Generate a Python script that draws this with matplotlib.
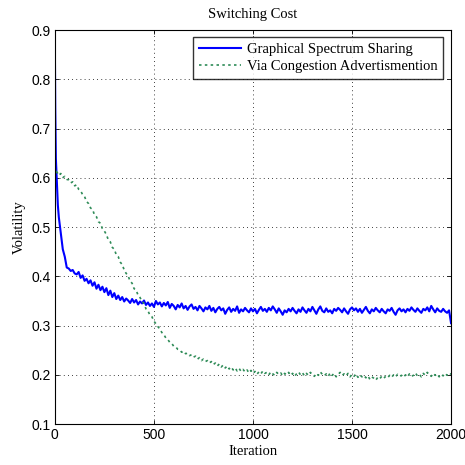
import numpy as np
import matplotlib.pyplot as plt

# ---- data ----
# early part (fast transient), then every 10 iterations from 70 to 2000
blue_head_iter = [0, 2, 5, 10, 15, 20, 30, 40, 50, 60]
blue_head_val = [0.865, 0.74, 0.64, 0.59, 0.545, 0.52, 0.488, 0.455, 0.44, 0.418]

green_head_iter = [0, 2, 5, 10, 20, 30, 40, 50, 60]
green_head_val = [0.83, 0.62, 0.608, 0.612, 0.605, 0.609, 0.601, 0.603, 0.597]

body_iter = list(range(70, 2001, 10))

blue_body_val = [
    0.416, 0.411, 0.413, 0.406, 0.404, 0.409, 0.397, 0.402, 0.391, 0.395,
    0.386, 0.392, 0.381, 0.388, 0.375, 0.383, 0.372, 0.379, 0.368, 0.376,
    0.362, 0.371, 0.358, 0.366, 0.354, 0.361, 0.352, 0.358, 0.349, 0.355,
    0.351, 0.346, 0.354, 0.347, 0.352, 0.343, 0.349, 0.345, 0.351, 0.342,
    0.347, 0.340, 0.345, 0.338, 0.350, 0.343, 0.347, 0.339, 0.346, 0.341,
    0.348, 0.336, 0.344, 0.340, 0.333, 0.342, 0.337, 0.345, 0.335, 0.340,
    0.332, 0.339, 0.343, 0.334, 0.338, 0.331, 0.340, 0.335, 0.329, 0.337,
    0.333, 0.340, 0.330, 0.336, 0.327, 0.334, 0.338, 0.331, 0.335, 0.324,
    0.332, 0.337, 0.328, 0.334, 0.330, 0.339, 0.326, 0.333, 0.329, 0.336,
    0.331, 0.327, 0.335, 0.329, 0.334, 0.325, 0.332, 0.338, 0.330, 0.334,
    0.328, 0.336, 0.331, 0.339, 0.333, 0.326, 0.335, 0.329, 0.322, 0.331,
    0.327, 0.334, 0.329, 0.336, 0.330, 0.325, 0.333, 0.328, 0.337, 0.331,
    0.326, 0.334, 0.329, 0.338, 0.331, 0.324, 0.333, 0.339, 0.330, 0.327,
    0.335, 0.328, 0.331, 0.325, 0.334, 0.330, 0.336, 0.332, 0.327, 0.335,
    0.329, 0.324, 0.333, 0.337, 0.331, 0.335, 0.328, 0.334, 0.326, 0.332,
    0.338, 0.330, 0.325, 0.333, 0.329, 0.336, 0.331, 0.327, 0.334, 0.329,
    0.325, 0.333, 0.330, 0.336, 0.328, 0.322, 0.331, 0.335, 0.329, 0.333,
    0.327, 0.334, 0.330, 0.337, 0.332, 0.328, 0.335, 0.330, 0.326, 0.334,
    0.331, 0.337, 0.329, 0.340, 0.333, 0.327, 0.335, 0.330, 0.328, 0.334,
    0.329, 0.326, 0.331, 0.305,
]

green_body_val = [
    0.596, 0.590, 0.592, 0.584, 0.586, 0.577, 0.574, 0.566, 0.562, 0.552,
    0.548, 0.539, 0.536, 0.525, 0.521, 0.511, 0.508, 0.497, 0.492, 0.485,
    0.474, 0.470, 0.459, 0.455, 0.444, 0.440, 0.429, 0.424, 0.413, 0.406,
    0.401, 0.390, 0.386, 0.375, 0.372, 0.362, 0.357, 0.349, 0.345, 0.334,
    0.330, 0.321, 0.318, 0.309, 0.304, 0.298, 0.293, 0.286, 0.282, 0.275,
    0.272, 0.266, 0.264, 0.258, 0.257, 0.252, 0.251, 0.246, 0.248, 0.243,
    0.244, 0.239, 0.241, 0.236, 0.238, 0.232, 0.235, 0.229, 0.232, 0.227,
    0.229, 0.224, 0.227, 0.221, 0.224, 0.218, 0.222, 0.216, 0.220, 0.214,
    0.218, 0.212, 0.216, 0.210, 0.214, 0.208, 0.213, 0.207, 0.211, 0.206,
    0.210, 0.204, 0.209, 0.203, 0.207, 0.201, 0.206, 0.202, 0.208, 0.203,
    0.205, 0.200, 0.206, 0.202, 0.199, 0.205, 0.201, 0.204, 0.198, 0.203,
    0.200, 0.205, 0.199, 0.203, 0.197, 0.202, 0.206, 0.200, 0.204, 0.198,
    0.203, 0.199, 0.205, 0.200, 0.197, 0.203, 0.199, 0.206, 0.201, 0.198,
    0.202, 0.197, 0.204, 0.199, 0.203, 0.196, 0.201, 0.205, 0.199, 0.202,
    0.198, 0.203, 0.196, 0.201, 0.197, 0.202, 0.195, 0.200, 0.196, 0.199,
    0.194, 0.198, 0.191, 0.196, 0.193, 0.189, 0.195, 0.192, 0.197, 0.193,
    0.197, 0.194, 0.199, 0.195, 0.200, 0.196, 0.201, 0.197, 0.199, 0.195,
    0.200, 0.196, 0.202, 0.197, 0.199, 0.204, 0.198, 0.201, 0.196, 0.203,
    0.199, 0.205, 0.200, 0.197, 0.203, 0.199, 0.202, 0.196, 0.201, 0.198,
    0.203, 0.199, 0.204, 0.201,
]

labels = ['Graphical Spectrum Sharing', 'Via Congestion Advertismention']
x_ticks = [0, 500, 1000, 1500, 2000]
y_ticks = [0.1, 0.2, 0.3, 0.4, 0.5, 0.6, 0.7, 0.8, 0.9]

blue_iter = blue_head_iter + body_iter
blue_val = blue_head_val + blue_body_val
green_iter = green_head_iter + body_iter
green_val = green_head_val + green_body_val

serif = 'Liberation Serif'
sans = 'Liberation Sans'

fig = plt.figure(figsize=(4.65, 4.65), dpi=100)
ax = fig.add_axes([0.118, 0.088, 0.852, 0.847])

ax.plot(blue_iter, blue_val, color='#0000ff', lw=1.5, label=labels[0])
ax.plot(green_iter, green_val, color='#2e8b57', lw=1.2, ls=(0, (1.5, 2.0)),
        label=labels[1])

ax.set_xlim(0, 2000)
ax.set_ylim(0.1, 0.9)
ax.set_xticks(x_ticks)
ax.set_yticks(y_ticks)
ax.set_xticklabels([str(t) for t in x_ticks], fontfamily=sans, fontsize=10)
ax.set_yticklabels([f'{t:.1f}' for t in y_ticks], fontfamily=sans, fontsize=10)
ax.tick_params(direction='in', top=True, right=True, length=3, width=0.6, pad=3)

ax.grid(True, color='black', ls=(0, (1, 4)), lw=0.6)
for s in ax.spines.values():
    s.set_linewidth(0.8)

ax.set_title('Switching Cost', fontfamily=serif, fontsize=10.5, pad=9)
ax.set_xlabel('Iteration', fontfamily=serif, fontsize=10.5, labelpad=2)
ax.set_ylabel('Volatility', fontfamily=serif, fontsize=10.5, labelpad=4)

leg = ax.legend(loc='upper right', bbox_to_anchor=(0.98, 0.982),
                prop={'family': serif, 'size': 10.5}, frameon=True, fancybox=False,
                edgecolor='black', handlelength=2.9, handletextpad=0.4,
                borderpad=0.4, labelspacing=0.22, borderaxespad=0)
leg.get_frame().set_linewidth(1.0)

fig.savefig('out.png', dpi=100)
